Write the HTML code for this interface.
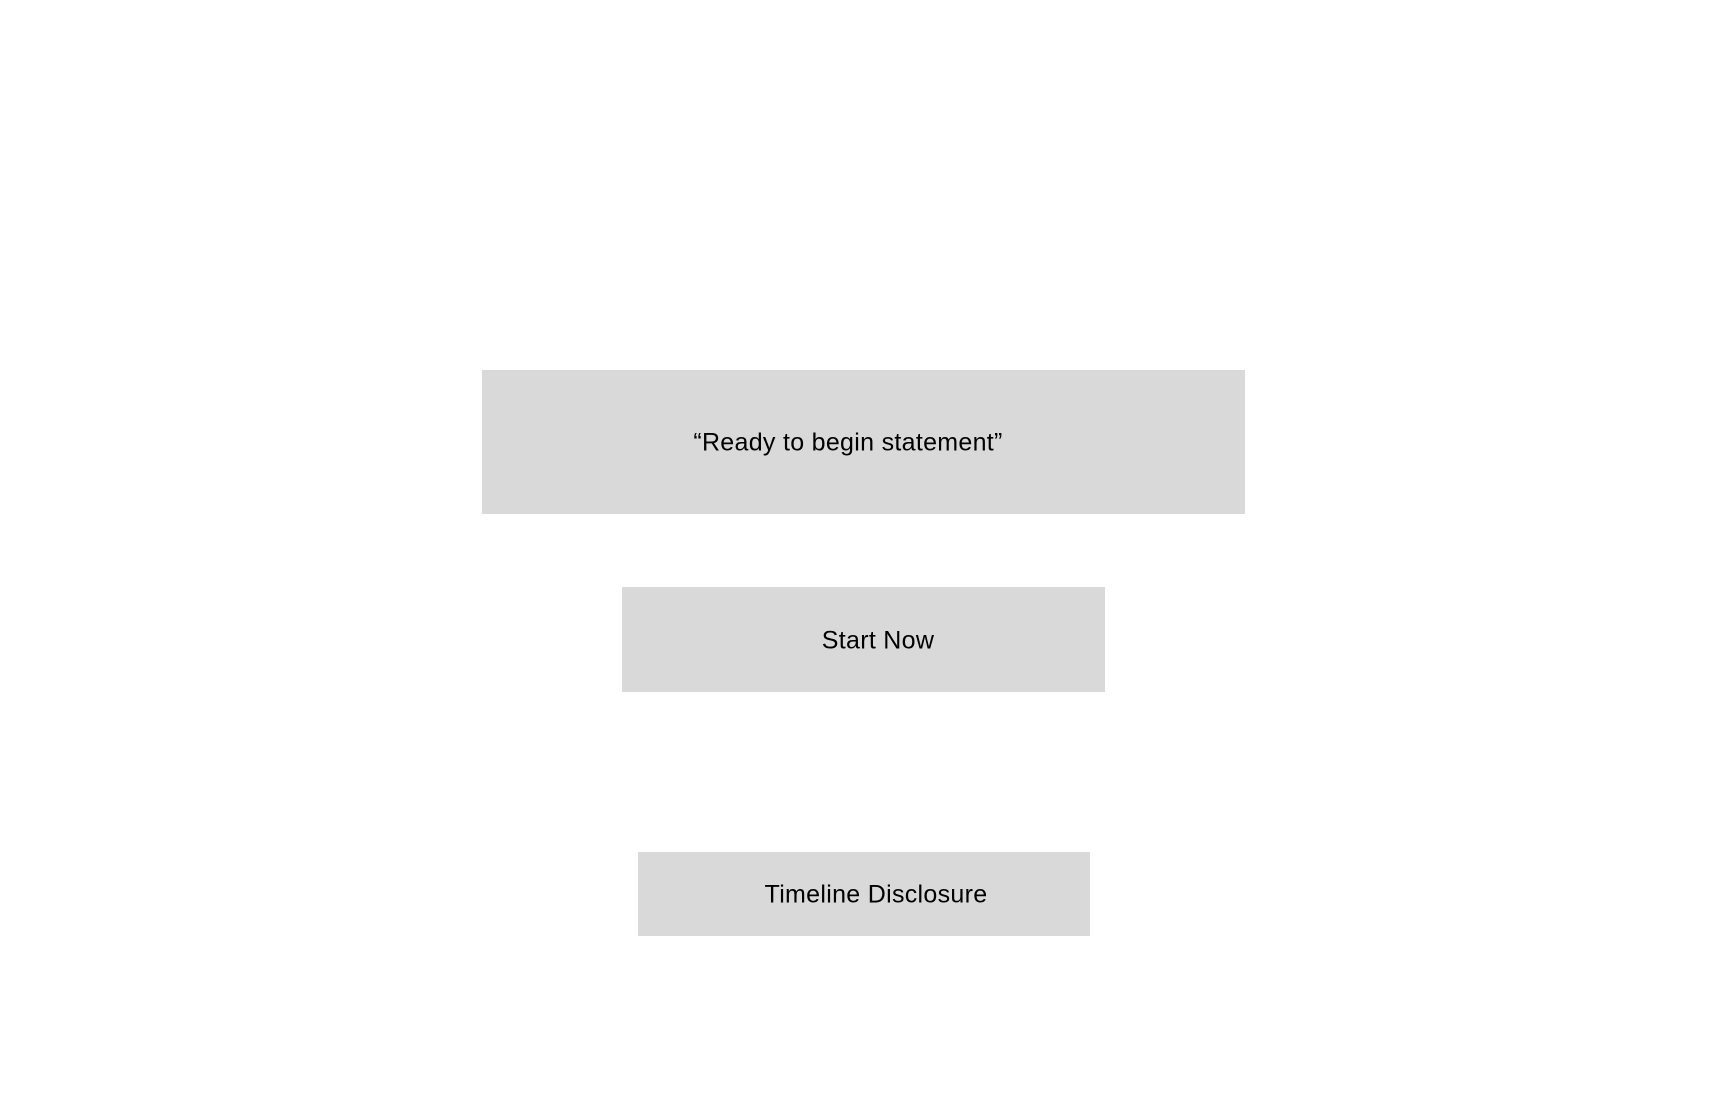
<!DOCTYPE html>
<html><head><style>
body{margin:0;width:1728px;height:1117px;background:#fff;position:relative;overflow:hidden;font-family:"Liberation Sans",sans-serif;}
.b{position:absolute;background:#d9d9d9;}
.t{position:absolute;transform:translate(-50%,-50%);font-size:25px;letter-spacing:0.3px;color:#000;white-space:nowrap;}
</style></head><body>
<div class="b" style="left:482px;top:370px;width:763px;height:144px"></div>
<div class="b" style="left:622px;top:587px;width:483px;height:105px"></div>
<div class="b" style="left:638px;top:852px;width:452px;height:84px"></div>
<div class="t" style="left:848px;top:443px">“Ready to begin statement”</div>
<div class="t" style="left:878px;top:641px">Start Now</div>
<div class="t" style="left:876px;top:895px">Timeline Disclosure</div>
</body></html>
